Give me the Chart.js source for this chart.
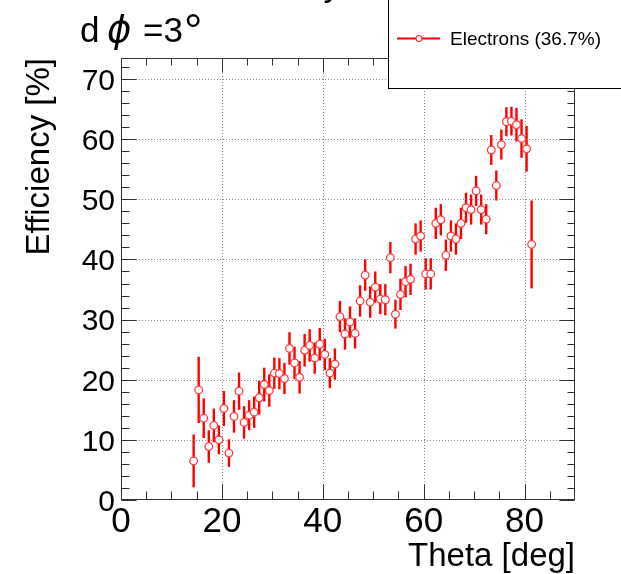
<!DOCTYPE html>
<html>
<head>
<meta charset="utf-8">
<script src="https://cdn.jsdelivr.net/npm/chart.js@4/dist/chart.umd.min.js"></script>
<style>
  html, body { margin: 0; padding: 0; background: #ffffff; }
  #wrap { width: 621px; height: 574px; position: relative; }
</style>
</head>
<body>
<div id="wrap"><canvas id="c" width="621" height="574"></canvas></div>
<script>
// ---- data ----
const seriesLabel = 'Electrons (36.7%)';
const theta = [14.4, 15.4, 16.4, 17.4, 18.4, 19.4, 20.4, 21.4, 22.4, 23.4,
               24.4, 25.4, 26.4, 27.4, 28.4, 29.4, 30.4, 31.4, 32.4, 33.4,
               34.4, 35.4, 36.4, 37.4, 38.4, 39.4, 40.4, 41.4, 42.4, 43.4,
               44.4, 45.4, 46.4, 47.4, 48.4, 49.4, 50.4, 51.4, 52.4, 53.4,
               54.4, 55.4, 56.4, 57.4, 58.4, 59.4, 60.4, 61.4, 62.4, 63.4,
               64.4, 65.4, 66.4, 67.4, 68.4, 69.4, 70.4, 71.4, 72.4, 73.4,
               74.4, 75.4, 76.4, 77.4, 78.4, 79.4, 80.4, 81.4];
const efficiency = [6.5, 18.3, 13.6, 8.9, 12.4, 10.0, 15.2, 7.8, 13.9, 18.1,
                    12.9, 14.1, 14.6, 17.0, 19.2, 18.2, 21.1, 21.0, 20.2, 25.2,
                    22.8, 20.4, 24.9, 25.7, 23.6, 25.9, 24.2, 21.1, 22.6, 30.5,
                    27.6, 29.6, 27.7, 33.1, 37.4, 32.9, 35.4, 33.4, 33.3, 40.3,
                    30.9, 34.2, 36.3, 36.7, 43.4, 43.9, 37.6, 37.6, 46.0, 46.6,
                    40.7, 43.9, 43.4, 46.0, 48.6, 48.3, 51.4, 48.3, 46.7, 58.2,
                    52.3, 59.1, 62.9, 63.0, 62.4, 60.1, 58.4, 42.5];
const effError = [4.4, 5.5, 3.3, 2.7, 2.8, 2.4, 2.9, 2.3, 2.7, 3.1,
                  2.7, 2.5, 2.6, 2.8, 2.8, 2.7, 2.6, 2.6, 2.6, 2.7,
                  2.7, 2.7, 2.7, 2.7, 2.6, 2.7, 2.6, 2.5, 2.6, 2.6,
                  2.6, 2.6, 2.5, 2.6, 2.6, 2.6, 2.6, 2.5, 2.6, 2.6,
                  2.4, 2.6, 2.6, 2.6, 2.6, 2.6, 2.6, 2.6, 2.6, 2.6,
                  2.6, 2.6, 2.6, 2.6, 2.5, 2.5, 2.5, 2.5, 2.5, 2.5,
                  2.5, 2.5, 2.4, 2.4, 2.8, 3.2, 3.8, 7.3];
const xMajorTicks = [0, 20, 40, 60, 80];
const xTickLabels = ['0', '20', '40', '60', '80'];
const xMinorTicks = [5, 10, 15, 25, 30, 35, 45, 50, 55, 65, 70, 75, 85];
const yMajorTicks = [0, 10, 20, 30, 40, 50, 60, 70];
const yTickLabels = ['0', '10', '20', '30', '40', '50', '60', '70'];
const yMinorTicks = [2, 4, 6, 8, 12, 14, 16, 18, 22, 24, 26, 28, 32, 34, 36, 38,
                     42, 44, 46, 48, 52, 54, 56, 58, 62, 64, 66, 68, 72];
const xTitle = 'Theta [deg]';
const yTitle = 'Efficiency [%]';
const topTitle = 'Efficiency';

const FONT = '"Liberation Sans", Arial, Helvetica, sans-serif';
const RED = '#ff0000';

const points = theta.map((t, i) => ({ x: t, y: efficiency[i] }));

const rootStyle = {
  id: 'rootStyle',
  beforeDatasetsDraw(chart) {
    const ctx = chart.ctx, a = chart.chartArea;
    const xs = chart.scales.x, ys = chart.scales.y;
    ctx.save();
    // dotted grid
    ctx.strokeStyle = '#8a8a8a';
    ctx.lineWidth = 1;
    ctx.setLineDash([1, 2]);
    xMajorTicks.forEach(v => {
      if (v <= 0) return;
      const px = Math.round(xs.getPixelForValue(v)) + 0.5;
      ctx.beginPath(); ctx.moveTo(px, a.top); ctx.lineTo(px, a.bottom); ctx.stroke();
    });
    yMajorTicks.forEach(v => {
      if (v <= 0) return;
      const py = Math.round(ys.getPixelForValue(v)) + 0.5;
      ctx.beginPath(); ctx.moveTo(a.left, py); ctx.lineTo(a.right, py); ctx.stroke();
    });
    ctx.setLineDash([]);
    // error bars
    ctx.strokeStyle = RED;
    ctx.lineWidth = 2.4;
    ctx.beginPath();
    ctx.rect(a.left, a.top, a.right - a.left, a.bottom - a.top);
    ctx.clip();
    theta.forEach((t, i) => {
      const px = xs.getPixelForValue(t);
      const y1 = ys.getPixelForValue(efficiency[i] - effError[i]);
      const y2 = ys.getPixelForValue(efficiency[i] + effError[i]);
      ctx.beginPath(); ctx.moveTo(px, y1); ctx.lineTo(px, y2); ctx.stroke();
    });
    ctx.restore();
  },
  afterDatasetsDraw(chart) {
    const ctx = chart.ctx, a = chart.chartArea;
    const xs = chart.scales.x, ys = chart.scales.y;
    ctx.save();
    // frame
    ctx.strokeStyle = '#333333';
    ctx.lineWidth = 1;
    const L = Math.round(a.left) + 0.5, R = Math.round(a.right) - 0.5;
    const T = Math.round(a.top) + 0.5, B = Math.round(a.bottom) - 0.5;
    ctx.strokeRect(L, T, R - L, B - T);
    // ticks
    const tick = (x1, y1, x2, y2) => { ctx.beginPath(); ctx.moveTo(x1, y1); ctx.lineTo(x2, y2); ctx.stroke(); };
    xMajorTicks.forEach(v => {
      const px = Math.round(xs.getPixelForValue(v)) + 0.5;
      tick(px, B, px, B - 15); tick(px, T, px, T + 14);
    });
    xMinorTicks.forEach(v => {
      const px = Math.round(xs.getPixelForValue(v)) + 0.5;
      tick(px, B, px, B - 8); tick(px, T, px, T + 7);
    });
    yMajorTicks.forEach(v => {
      const py = Math.round(ys.getPixelForValue(v)) + 0.5;
      tick(L, py, L + 15, py); tick(R, py, R - 15, py);
    });
    yMinorTicks.forEach(v => {
      const py = Math.round(ys.getPixelForValue(v)) + 0.5;
      tick(L, py, L + 8, py); tick(R, py, R - 7, py);
    });
    // tick labels
    ctx.fillStyle = '#000000';
    ctx.font = '35px ' + FONT;
    ctx.textAlign = 'center';
    ctx.textBaseline = 'alphabetic';
    xMajorTicks.forEach((v, i) => {
      ctx.fillText(xTickLabels[i], xs.getPixelForValue(v), 532);
    });
    ctx.font = '30px ' + FONT;
    ctx.textAlign = 'right';
    yMajorTicks.forEach((v, i) => {
      ctx.fillText(yTickLabels[i], 115, ys.getPixelForValue(v) + 10.8);
    });
    // axis titles
    ctx.font = '33px ' + FONT;
    ctx.textAlign = 'right';
    ctx.fillText(xTitle, 575, 566);
    ctx.save();
    ctx.translate(49, 58);
    ctx.rotate(-Math.PI / 2);
    ctx.textAlign = 'right';
    ctx.fillText(yTitle, 0, 0);
    ctx.restore();
    // pad title (mostly cut off at top)
    ctx.font = '35px ' + FONT;
    ctx.textAlign = 'right';
    ctx.fillText(topTitle, 341, -4);
    // label  d phi = 3 deg
    ctx.textAlign = 'left';
    ctx.font = '35px ' + FONT;
    ctx.fillText('d', 80, 42);
    ctx.font = 'italic 37px "DejaVu Sans", ' + FONT;
    ctx.fillText('\u03D5', 107, 42);
    ctx.font = '35px ' + FONT;
    ctx.fillText('=3', 143, 42);
    ctx.font = '46px ' + FONT;
    ctx.fillText('\u00B0', 184, 46.5);
    // legend box
    ctx.fillStyle = '#ffffff';
    ctx.fillRect(388.5, -5, 260, 93.5);
    ctx.strokeStyle = '#000000';
    ctx.lineWidth = 1;
    ctx.strokeRect(388.5, -5, 260, 93.5);
    ctx.strokeStyle = RED;
    ctx.lineWidth = 1.8;
    tick(397, 38.5, 440, 38.5);
    ctx.beginPath();
    ctx.arc(419, 38.5, 3, 0, Math.PI * 2);
    ctx.fillStyle = '#ffffff';
    ctx.fill();
    ctx.lineWidth = 1.2;
    ctx.strokeStyle = '#ff3030';
    ctx.stroke();
    ctx.fillStyle = '#000000';
    ctx.font = '19px ' + FONT;
    ctx.textAlign = 'left';
    ctx.fillText(chart.data.datasets[0].label, 450, 44.7);
    ctx.restore();
  }
};

new Chart(document.getElementById('c'), {
  type: 'scatter',
  data: {
    datasets: [{
      label: seriesLabel,
      data: points,
      pointStyle: 'circle',
      pointRadius: 3.8,
      pointBorderWidth: 1.3,
      pointBackgroundColor: '#ffffff',
      pointBorderColor: '#ff3c3c',
      showLine: false
    }]
  },
  options: {
    responsive: false,
    animation: false,
    devicePixelRatio: 1,
    layout: { padding: { left: 121, right: 46, top: 58, bottom: 74 } },
    plugins: { legend: { display: false }, title: { display: false }, tooltip: { enabled: false } },
    scales: {
      x: { type: 'linear', min: 0, max: 90, display: false },
      y: { type: 'linear', min: 0, max: 73.5, display: false }
    }
  },
  plugins: [rootStyle]
});
</script>
</body>
</html>
